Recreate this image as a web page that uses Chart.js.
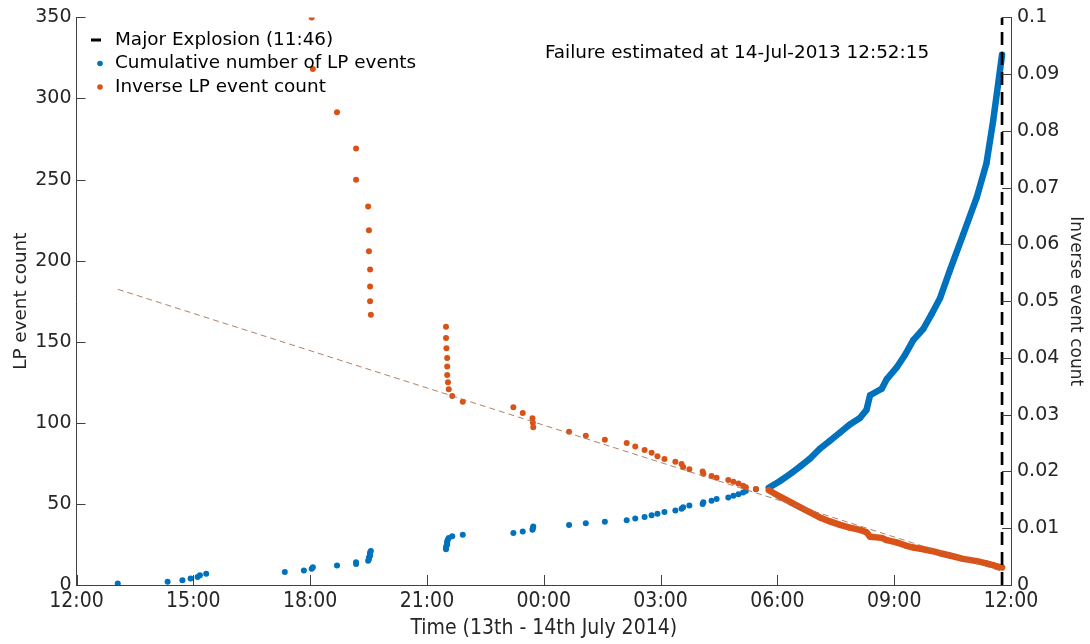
<!DOCTYPE html>
<html>
<head>
  <meta charset="utf-8">
  <title>LP events before the explosion</title>
  <script src="https://cdn.jsdelivr.net/npm/chart.js@4.4.1/dist/chart.umd.min.js"></script>
  <style>
    html, body { margin: 0; padding: 0; background: #fff; }
  </style>
</head>
<body>
  <canvas id="lpChart" width="1090" height="644"></canvas>

  <script>
    // hours after 12:00 on the 13th
    var eventHour = [
      1.06, 2.34, 2.72, 2.93, 3.11, 3.17, 3.33, 5.35, 5.84, 6.04,
      6.07, 6.69, 7.18, 7.18, 7.49, 7.51, 7.51, 7.54, 7.54, 7.54,
      7.56, 9.49, 9.49, 9.50, 9.52, 9.52, 9.52, 9.54, 9.56, 9.65,
      9.92, 11.22, 11.46, 11.71, 11.72, 11.73, 12.65, 13.08, 13.57, 14.13,
      14.35, 14.59, 14.77, 14.92, 15.10, 15.38, 15.54, 15.58, 15.74, 16.08,
      16.10, 16.31, 16.44, 16.74, 16.87, 17.00, 17.12, 17.19, 17.45, 17.78,
      18.06, 18.36, 18.58, 18.84, 19.09, 19.35, 19.61, 19.86, 20.12, 20.29,
      20.38, 20.68, 20.81, 21.06, 21.28, 21.49, 21.75, 21.96, 22.18, 22.43,
      22.77, 23.12, 23.37, 23.54, 23.67, 23.77
    ];
    var lpCount = [
      1, 2, 3, 4, 5, 6, 7, 8, 9, 10,
      11, 12, 13, 14, 15, 16, 17, 18, 19, 20,
      21, 22, 23, 24, 25, 26, 27, 28, 29, 30,
      31, 32, 33, 34, 35, 36, 37, 38, 39, 40,
      41, 42, 43, 44, 45, 46, 47, 48, 49, 50,
      51, 52, 53, 54, 55, 56, 57, 58, 59, 60,
      64, 69, 73, 78, 84, 89, 94, 99, 103, 108,
      117, 121, 127, 134, 142, 151, 158, 167, 177, 194,
      216, 239, 260, 286, 309, 327
    ];
    // null = above 0.1, off the chart
    var invCount = [
      null, null, null, null, null, null, null, null, null, 0.1,
      0.0909, 0.0833, 0.0769, 0.0714, 0.0667, 0.0625, 0.0588, 0.0556, 0.0526, 0.05,
      0.0476, 0.0455, 0.0435, 0.0417, 0.04, 0.0385, 0.037, 0.0357, 0.0345, 0.0333,
      0.0323, 0.0313, 0.0303, 0.0294, 0.0286, 0.0278, 0.027, 0.0263, 0.0256, 0.025,
      0.0244, 0.0238, 0.0233, 0.0227, 0.0222, 0.0217, 0.0213, 0.0208, 0.0204, 0.02,
      0.0196, 0.0192, 0.0189, 0.0185, 0.0182, 0.0179, 0.0175, 0.0172, 0.0169, 0.0167,
      0.0156, 0.0145, 0.0137, 0.0128, 0.0119, 0.0112, 0.0106, 0.0101, 0.0097, 0.0093,
      0.0085, 0.0083, 0.0079, 0.0075, 0.007, 0.0066, 0.0063, 0.006, 0.0056, 0.0052,
      0.0046, 0.0042, 0.0038, 0.0035, 0.0032, 0.0031
    ];
    var fitHour = [1.06, 23.77];
    var fitInv = [0.0521, 0.0024];
    var explosionHour = 23.77;
    var xTickLabels = ['12:00', '15:00', '18:00', '21:00', '00:00', '03:00', '06:00', '09:00', '12:00'];
    var legendNames = ['Major Explosion (11:46)', 'Cumulative number of LP events', 'Inverse LP event count'];
    var failureText = 'Failure estimated at 14-Jul-2013 12:52:15';
    var failureAt = { x: 12.03, y: 329 };

    var blue = '#0072BD';
    var orange = '#D95319';
    var axisColor = '#404040';
    var textColor = '#262626';
    var narrowFont = '"Liberation Sans Narrow", "DejaVu Sans Condensed", sans-serif';
    var denseFrom = 17.7; // from here on the markers merge into a band

    Chart.defaults.font.family = '"DejaVu Sans", sans-serif';
    Chart.defaults.color = textColor;

    function points(values) {
      return eventHour.map(function(h, i) { return { x: h, y: values[i] }; })
        .filter(function(p) { return p.y !== null; });
    }

    // matlab style ticks pointing into the plot
    var inwardTicks = {
      id: 'inwardTicks',
      afterDraw: function(chart) {
        var ctx = chart.ctx, area = chart.chartArea, s = chart.scales;
        ctx.save();
        ctx.strokeStyle = axisColor;
        ctx.lineWidth = 1;
        ctx.beginPath();
        s.x.ticks.forEach(function(t) {
          var px = Math.round(s.x.getPixelForValue(t.value)) + 0.5;
          ctx.moveTo(px, area.bottom);
          ctx.lineTo(px, area.bottom - 10);
        });
        s.y.ticks.forEach(function(t) {
          var py = Math.round(s.y.getPixelForValue(t.value)) + 0.5;
          ctx.moveTo(area.left, py);
          ctx.lineTo(area.left + 9, py);
        });
        s.y2.ticks.forEach(function(t) {
          var py = Math.round(s.y2.getPixelForValue(t.value)) + 0.5;
          ctx.moveTo(area.right, py);
          ctx.lineTo(area.right - 9, py);
        });
        ctx.stroke();
        ctx.restore();
      }
    };

    var legendAndNote = {
      id: 'legendAndNote',
      afterDraw: function(chart) {
        var ctx = chart.ctx;
        ctx.save();
        ctx.font = '18.4px "DejaVu Sans", sans-serif';
        ctx.textBaseline = 'middle';
        ctx.fillStyle = '#000';
        var colors = ['#000', blue, orange];
        legendNames.forEach(function(name, i) {
          var y = 40 + i * 23.5;
          ctx.fillStyle = colors[i];
          if (i === 0) {
            ctx.fillRect(91, y - 1.5, 10, 3);
          } else {
            ctx.beginPath();
            ctx.arc(100, y, 2.8, 0, Math.PI * 2);
            ctx.fill();
          }
          ctx.fillStyle = '#000';
          ctx.fillText(name, 115, y);
        });
        ctx.textBaseline = 'alphabetic';
        ctx.fillText(failureText,
          chart.scales.x.getPixelForValue(failureAt.x),
          chart.scales.y.getPixelForValue(failureAt.y) + 7);
        ctx.restore();
      }
    };

    var ctx = document.getElementById('lpChart').getContext('2d');
    var chart = new Chart(ctx, {
      type: 'scatter',
      data: {
        datasets: [{
          label: legendNames[0],
          type: 'line',
          data: [{ x: explosionHour, y: 0 }, { x: explosionHour, y: 350 }],
          yAxisID: 'y',
          borderColor: '#000',
          borderWidth: 2.7,
          borderDash: [13, 7],
          pointRadius: 0,
          order: 0
        }, {
          label: 'fit',
          type: 'line',
          data: fitHour.map(function(h, i) { return { x: h, y: fitInv[i] }; }),
          yAxisID: 'y2',
          borderColor: 'rgba(165, 115, 85, 0.9)',
          borderWidth: 1,
          borderDash: [6, 4],
          pointRadius: 0,
          order: 1
        }, {
          label: legendNames[2],
          data: points(invCount),
          yAxisID: 'y2',
          showLine: true,
          borderColor: orange,
          borderWidth: 6.5,
          borderJoinStyle: 'round',
          borderCapStyle: 'round',
          segment: {
            borderColor: function(c) { return c.p0.parsed.x >= denseFrom ? orange : 'transparent'; }
          },
          pointRadius: 3,
          pointBorderWidth: 0,
          pointBackgroundColor: orange,
          order: 2
        }, {
          label: legendNames[1],
          data: points(lpCount),
          yAxisID: 'y',
          showLine: true,
          borderColor: blue,
          borderWidth: 6.5,
          borderJoinStyle: 'round',
          borderCapStyle: 'round',
          segment: {
            borderColor: function(c) { return c.p0.parsed.x >= denseFrom ? blue : 'transparent'; }
          },
          pointRadius: 3,
          pointBorderWidth: 0,
          pointBackgroundColor: blue,
          order: 3
        }]
      },
      options: {
        responsive: false,
        animation: false,
        layout: { padding: { top: 17, left: 0, right: 0, bottom: 0 } },
        plugins: {
          legend: { display: false },
          tooltip: { enabled: false }
        },
        scales: {
          x: {
            type: 'linear',
            min: 0,
            max: 24,
            afterFit: function(s) { s.height = 59; },
            ticks: {
              stepSize: 3,
              autoSkip: false,
              maxRotation: 0,
              padding: 4,
              color: textColor,
              font: { family: narrowFont, size: 21 },
              callback: function(v, i) { return xTickLabels[i]; }
            },
            grid: { display: false, drawTicks: false },
            border: { display: true, color: axisColor, width: 1 },
            title: {
              display: true,
              text: 'Time (13th - 14th July 2014)',
              color: textColor,
              font: { family: narrowFont, size: 21 },
              padding: { top: 0, bottom: 3 }
            }
          },
          y: {
            position: 'left',
            min: 0,
            max: 350,
            afterFit: function(s) { s.width = 76.5; },
            ticks: { stepSize: 50, padding: 5, font: { size: 19 } },
            grid: { display: false, drawTicks: false },
            border: { display: true, color: axisColor, width: 1 },
            title: {
              display: true,
              text: 'LP event count',
              font: { size: 18.4 },
              padding: { top: 10, bottom: 0 }
            }
          },
          y2: {
            position: 'right',
            min: 0,
            max: 0.1,
            afterFit: function(s) { s.width = 79; },
            ticks: {
              stepSize: 0.01,
              padding: 6,
              font: { size: 19 },
              callback: function(v) { return String(parseFloat(v.toFixed(2))); }
            },
            grid: { display: false, drawTicks: false },
            border: { display: true, color: axisColor, width: 1 },
            title: {
              display: true,
              text: 'Inverse event count',
              font: { size: 17 },
              padding: { top: 4, bottom: 0 }
            }
          }
        }
      },
      plugins: [inwardTicks, legendAndNote]
    });
  </script>
</body>
</html>
